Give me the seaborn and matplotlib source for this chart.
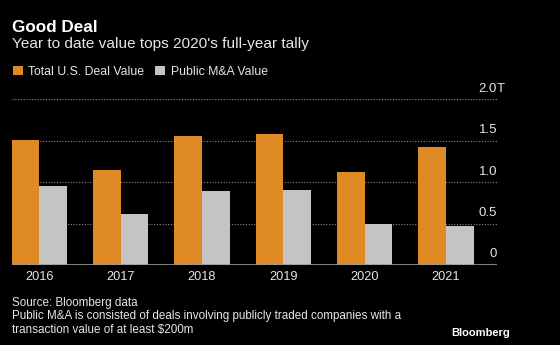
import matplotlib
matplotlib.use("Agg")
import matplotlib.pyplot as plt
import seaborn as sns
import pandas as pd
from matplotlib.patches import Patch
from matplotlib.transforms import blended_transform_factory

years = ["2016", "2017", "2018", "2019", "2020", "2021"]
total_us = [1.51, 1.15, 1.56, 1.58, 1.12, 1.43]
public_ma = [0.95, 0.61, 0.89, 0.91, 0.49, 0.47]
series_names = ["Total U.S. Deal Value", "Public M&A Value"]
y_ticks = [0, 0.5, 1.0, 1.5, 2.0]
y_labels = ["0", "0.5", "1.0", "1.5", "2.0"]

df = pd.DataFrame({
    "year": years * 2,
    "value": total_us + public_ma,
    "series": [series_names[0]] * len(years) + [series_names[1]] * len(years),
})

sns.set_theme(style="white")
plt.rcParams["font.family"] = ["Liberation Sans", "DejaVu Sans"]

ORANGE = "#E08A25"
GREY = "#C4C4C4"
BG = "black"
TXT = "#E6E6E6"

fig = plt.figure(figsize=(5.6, 3.45), dpi=100, facecolor=BG)
ax = fig.add_axes([12 / 560, 1 - 265 / 345, 485 / 560, (265 - 99.3) / 345])
ax.set_facecolor(BG)

sns.barplot(data=df, x="year", y="value", hue="series", order=years,
            hue_order=series_names, palette=[ORANGE, GREY], width=0.68,
            saturation=1, ax=ax, legend=False, linewidth=0)

ax.set_xlim(-0.336, 5.627)
ax.set_ylim(0, 2.0)
for s in ax.spines.values():
    s.set_visible(False)
ax.axhline(0, color="#9a9a9a", lw=1.2, zorder=5)
for t in y_ticks[1:]:
    ax.axhline(t, color="#8a8a8a", lw=0.8, ls=(0, (1, 1.5)), zorder=0)
ax.set_yticks([])
ax.set_xlabel("")
ax.set_ylabel("")
ax.tick_params(axis="x", length=0, pad=4.5, colors=TXT, labelsize=9.2)

tr = blended_transform_factory(ax.transAxes, ax.transData)
for t, lab in zip(y_ticks, y_labels):
    ax.text(1.0, t + 0.055, lab, transform=tr, ha="right", va="bottom",
            color=TXT, fontsize=9.5)
ax.text(1.0, 2.0 + 0.055, "T", transform=tr, ha="left", va="bottom",
        color=TXT, fontsize=9.5)

fig.text(12 / 560, 1 - 27 / 345, "Good Deal", color="white", fontsize=12.3,
         fontweight="bold", va="center", ha="left")
fig.text(12 / 560, 1 - 44 / 345, "Year to date value tops 2020's full-year tally",
         color=TXT, fontsize=11.1, va="center", ha="left")

handles = [Patch(facecolor=ORANGE, edgecolor="none"), Patch(facecolor=GREY, edgecolor="none")]
fig.legend(handles, series_names, loc="center left",
           bbox_to_anchor=(2 / 560, 1 - 72 / 345), ncol=2, frameon=False,
           handlelength=0.8, handleheight=0.8, handletextpad=0.45,
           columnspacing=0.9, labelcolor=TXT, fontsize=8.8)

fig.text(12 / 560, 1 - 303 / 345, "Source: Bloomberg data", color=TXT,
         fontsize=8.4, va="center", ha="left")
fig.text(12 / 560, 1 - 316 / 345,
         "Public M&A is consisted of deals involving publicly traded companies with a",
         color=TXT, fontsize=8.4, va="center", ha="left")
fig.text(12 / 560, 1 - 330 / 345, "transaction value of at least $200m", color=TXT,
         fontsize=8.4, va="center", ha="left")
fig.text(510 / 560, 1 - 333 / 345, "Bloomberg", color="white", fontsize=8,
         fontweight="bold", va="center", ha="right")

fig.savefig("out.png", dpi=100, facecolor=BG)
